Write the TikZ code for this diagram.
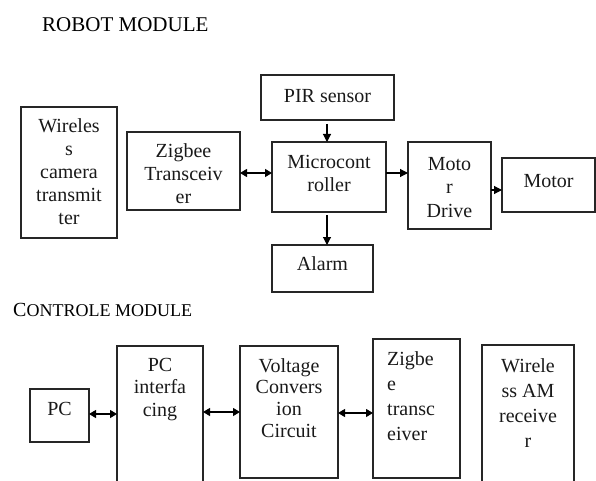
\documentclass[tikz,border=0pt]{standalone}
\usepackage{fontspec}
\setmainfont{Liberation Serif}
\usetikzlibrary{arrows.meta}
\begin{document}
\begin{tikzpicture}[x=1pt,y=-1pt,
  box/.style={draw=black!85, line width=1.1pt, inner sep=0pt, outer sep=0pt, anchor=north west},
  txt/.style={inner sep=0pt, align=center, anchor=north, text=black!90},
  fs/.style={font=\fontsize{20}{#1}\selectfont},
  fs/.default=23,
  tipone/.style={-{Triangle[length=8pt,width=8pt]}, line width=1.1pt},
  tipboth/.style={{Triangle[length=7pt,width=8pt]}-{Triangle[length=7pt,width=8pt]}, line width=1.1pt}]
\useasboundingbox (0,0) rectangle (596,481);
\clip (0,0) rectangle (596,481);

% titles
\node[inner sep=0pt, anchor=base west, font=\fontsize{21}{25}\selectfont] (t1) at (42,32) {ROBOT MODULE};
\node[inner sep=0pt, anchor=base west] (t2) at (13,316) {{\fontsize{20}{24}\selectfont C}{\fontsize{18}{22}\selectfont ONTROLE MODULE}};

% robot module boxes
\node[box, minimum width=96pt, minimum height=131pt] (wcam) at (21,107) {};
\node[box, minimum width=113pt, minimum height=78pt] (zig1) at (127,132) {};
\node[box, minimum width=133pt, minimum height=45pt] (pir) at (261,75) {};
\node[box, minimum width=114pt, minimum height=70pt] (mcu) at (272,142) {};
\node[box, minimum width=83pt, minimum height=87pt] (mdrv) at (408,142) {};
\node[box, minimum width=93pt, minimum height=54pt] (motor) at (502,158) {};
\node[box, minimum width=101pt, minimum height=47pt] (alarm) at (272,245) {};

% control module boxes
\node[box, minimum width=59pt, minimum height=53pt] (pc) at (30,389) {};
\node[box, minimum width=86pt, minimum height=160pt] (pcif) at (117,346) {};
\node[box, minimum width=98pt, minimum height=132pt] (volt) at (240,346) {};
\node[box, minimum width=87pt, minimum height=139pt] (zig2) at (373,339) {};
\node[box, minimum width=92pt, minimum height=160pt] (wam) at (482,345) {};

% texts
\node[txt, fs] (wcamt) at (69,115.9) {\strut Wireles\\s\\camera\\transmit\\ter};
\node[txt, fs] (zig1t) at (183.5,140.9) {\strut Zigbee\\Transceiv\\er};
\node[txt, fs] (pirt) at (327.5,85.9) {\strut PIR sensor};
\node[txt, fs] (mcut) at (329,151.9) {\strut Microcont\\roller};
\node[txt, fs=23.5] (mdrvt) at (449.5,153.55) {\strut Moto\\r\\Drive};
\node[txt, fs] (motort) at (548.5,170.9) {\strut Motor};
\node[txt, fs] (alarmt) at (322.5,253.9) {\strut Alarm};
\node[txt, fs] (pct) at (59.5,398.9) {\strut PC};
\node[txt, fs=22.5] (pcift) at (160,355.25) {\strut PC\\interfa\\cing};
\node[txt, fs=21.7] (voltt) at (289,356.8) {\strut Voltage\\Convers\\ion\\Circuit};
\node[txt, fs=25, align=left, anchor=north west] (zig2t) at (387,347.5) {\strut Zigbe\\e\\transc\\eiver};
\node[txt, fs=25] (wamt) at (528,354.5) {\strut Wirele\\ss AM\\receive\\r};

% connectors
\coordinate (a1) at ([yshift=-2pt]zig1.east);
\draw[tipboth] (a1) -- (a1 -| mcu.west);
\coordinate (a2) at ([xshift=-0.5pt,yshift=-4pt]pir.south);
\draw[tipone] (a2) -- (a2 |- mcu.north);
\coordinate (a3) at ([xshift=-2pt,yshift=-3pt]mcu.south);
\draw[tipone] (a3) -- (a3 |- alarm.north);
\coordinate (a4) at ([yshift=4pt]mcu.east);
\draw[tipone] (a4) -- (a4 -| mdrv.west);
\coordinate (a5) at ([yshift=-4.5pt]mdrv.east);
\draw[tipone] (a5) -- (a5 -| motor.west);
\coordinate (a6) at ([yshift=1.5pt]pc.east);
\draw[tipboth] (a6) -- (a6 -| pcif.west);
\draw[tipboth] (pcif.east |- volt.west) -- (volt.west);
\coordinate (a8) at ([yshift=-1pt]volt.east);
\draw[tipboth] (a8) -- (a8 -| zig2.west);
\end{tikzpicture}
\end{document}
